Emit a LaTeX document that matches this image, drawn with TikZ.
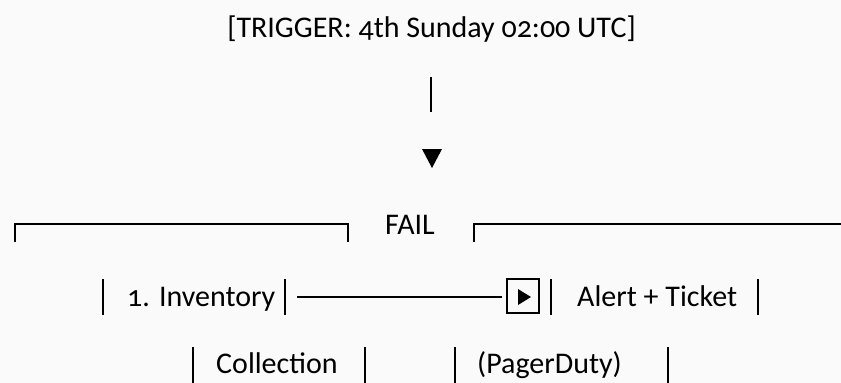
\documentclass[tikz,border=0pt]{standalone}
\usepackage{fontspec}
\setmainfont{Carlito}[Numbers=OldStyle]
\begin{document}
\begin{tikzpicture}[x=1pt,y=-1pt]
\tikzset{
  txt/.style={anchor=base west, inner sep=0pt, font=\fontsize{30}{36}\selectfont, text=black},
  vbar/.style={line width=1.8pt, black},
  rule/.style={line width=2pt, black},
  hline/.style={line width=1.6pt, black},
}
\fill[fill={rgb,255:red,250;green,250;blue,250}] (0,0) rectangle (841,383);
\useasboundingbox (0,0) rectangle (841,383);

% title
\node[txt, anchor=base] (title) at (431.5,37) {[TRIGGER: 4th Sunday 02:00 UTC]};
\coordinate (vtop) at (431,77);
\coordinate (vbot) at (431,112);
\draw[vbar] (vtop) -- (vbot);
\fill (422,149) -- (442,149) -- (432,168) -- cycle;

% bracket row
\draw[rule] (15,242) |- (348,224) -- (348,242);
\draw[rule] (474,242) |- (841,224);
\node[txt] (fail) at (385,234) {FAIL};

% row 2
\foreach \x in {103,285,551,758} \draw[vbar] (\x,279) -- (\x,315);
\node[txt] (inv) at (127,306) {1. Inventory};
\node[txt] (alert) at (577,306) {Alert + Ticket};
\node[draw, line width=1.2pt, minimum width=32pt, minimum height=34pt, inner sep=0pt] (play) at (523,296) {};
\fill (518,289) -- (518,305) -- (531,297) -- cycle;
\coordinate (lstart) at (297,297);
\draw[hline] (lstart) -- ([xshift=-4pt]play.west |- lstart);

% row 3
\foreach \x in {193,365,455,668} \draw[vbar] (\x,347) -- (\x,385);
\node[txt] (coll) at (216,373) {Collection};
\node[txt] (pd) at (477,373) {(PagerDuty)};
\end{tikzpicture}
\end{document}
